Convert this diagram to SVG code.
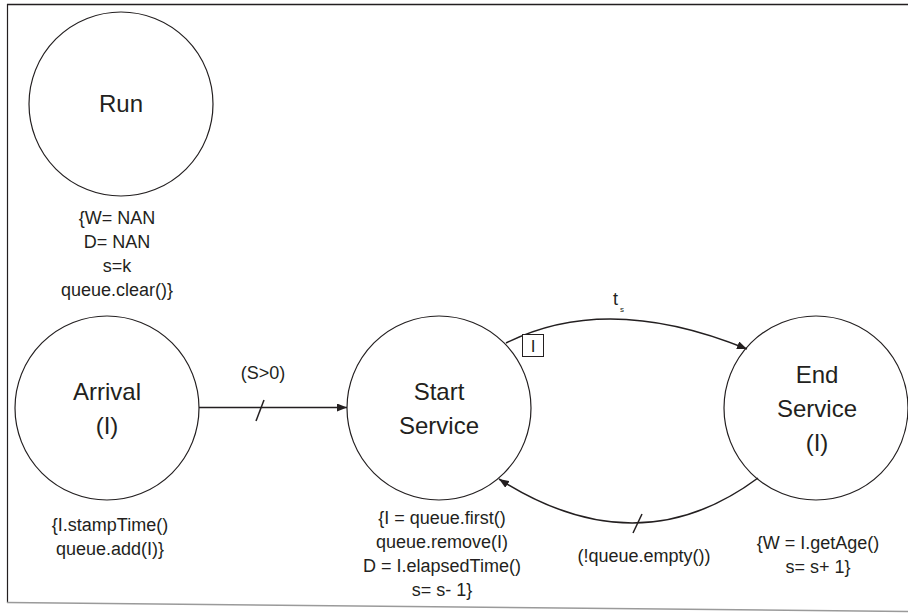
<svg xmlns="http://www.w3.org/2000/svg" width="908" height="613" viewBox="0 0 908 613">
<style>
.node{fill:#fff;stroke:#231f20;stroke-width:1.2}
.title{font-family:"Liberation Sans",Arial,sans-serif;font-size:24px;fill:#231f20;text-anchor:middle}
.ann{font-family:"Liberation Sans",Arial,sans-serif;font-size:18px;fill:#231f20;text-anchor:middle}
.edge{fill:none;stroke:#231f20;stroke-width:1.5}
.tick{stroke:#231f20;stroke-width:1.5}
</style>
<defs>
<marker id="arr" markerWidth="11" markerHeight="8" refX="10" refY="4" orient="auto" markerUnits="userSpaceOnUse">
<path d="M0,0 L10,4 L0,8 Z" fill="#231f20"/>
</marker>
</defs>
<rect x="0" y="0" width="908" height="613" fill="#fff"/>
<line x1="7" y1="4.5" x2="908" y2="4.5" stroke="#231f20" stroke-width="1.3"/>
<line x1="7.5" y1="4" x2="7.5" y2="603" stroke="#231f20" stroke-width="1.2"/>
<line x1="7" y1="602.5" x2="908" y2="611.5" stroke="#9a9a9a" stroke-width="1.5"/>

<g id="run">
<circle class="node" cx="121" cy="104" r="92"/>
<text class="title" x="121" y="112">Run</text>
<text class="ann" x="117" y="224">{W= NAN</text>
<text class="ann" x="117" y="248">D= NAN</text>
<text class="ann" x="117" y="272">s=k</text>
<text class="ann" x="117" y="296">queue.clear()}</text>
</g>

<g id="arrival">
<circle class="node" cx="107" cy="408" r="92"/>
<text class="title" x="107" y="400">Arrival</text>
<text class="title" x="107" y="434">(I)</text>
<text class="ann" x="110" y="531">{I.stampTime()</text>
<text class="ann" x="110" y="555">queue.add(I)}</text>
</g>

<g id="start-service">
<circle class="node" cx="439" cy="408" r="92"/>
<text class="title" x="439" y="400">Start</text>
<text class="title" x="439" y="434">Service</text>
<text class="ann" x="442" y="524">{I = queue.first()</text>
<text class="ann" x="442" y="548">queue.remove(I)</text>
<text class="ann" x="442" y="572">D = I.elapsedTime()</text>
<text class="ann" x="442" y="596">s= s- 1}</text>
</g>

<g id="end-service">
<circle class="node" cx="816" cy="408" r="92"/>
<text class="title" x="817" y="383">End</text>
<text class="title" x="817" y="417">Service</text>
<text class="title" x="817" y="451">(I)</text>
<text class="ann" x="818" y="549">{W = I.getAge()</text>
<text class="ann" x="818" y="573">s= s+ 1}</text>
</g>

<g id="connectors">
<line class="edge" x1="199" y1="407.5" x2="347" y2="407.5" marker-end="url(#arr)"/>
<line class="tick" x1="256" y1="421" x2="264" y2="400"/>
<text class="ann" x="263" y="379">(S&gt;0)</text>

<path class="edge" d="M506,343 Q607.5,292 747,349" marker-end="url(#arr)"/>
<rect x="522.5" y="334.5" width="21" height="22" fill="#fff" stroke="#231f20" stroke-width="1"/>
<text class="ann" x="533" y="352" style="font-size:17px">I</text>
<text x="613" y="305" style="font-family:'Liberation Sans',Arial,sans-serif;font-size:18px;fill:#231f20">t</text>
<text x="620" y="312" style="font-family:'Liberation Sans',Arial,sans-serif;font-size:8px;fill:#231f20">s</text>

<path class="edge" d="M758,478 Q637.5,567.5 499,479" marker-end="url(#arr)"/>
<line class="tick" x1="633" y1="533" x2="642" y2="514"/>
<text class="ann" x="644" y="562">(!queue.empty())</text>
</g>
</svg>
